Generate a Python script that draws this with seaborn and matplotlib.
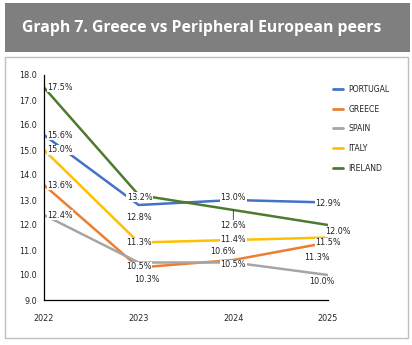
import matplotlib
matplotlib.use("Agg")
import matplotlib.pyplot as plt
from matplotlib.patches import Rectangle
import seaborn as sns
import pandas as pd
from matplotlib import font_manager

years = [2022, 2023, 2024, 2025]
countries = ["PORTUGAL", "GREECE", "SPAIN", "ITALY", "IRELAND"]
portugal = [15.6, 12.8, 13.0, 12.9]
greece = [13.6, 10.3, 10.6, 11.3]
spain = [12.4, 10.5, 10.5, 10.0]
italy = [15.0, 11.3, 11.4, 11.5]
ireland = [17.5, 13.2, 12.6, 12.0]
colors = ["#4472C4", "#ED7D31", "#A5A5A5", "#FFC000", "#4E7A2F"]
title = "Graph 7. Greece vs Peripheral European peers"

series = dict(zip(countries, [portugal, greece, spain, italy, ireland]))
rows = []
for c in countries:
    for y, v in zip(years, series[c]):
        rows.append({"year": y, "value": v, "country": c})
df = pd.DataFrame(rows)

sns.set_theme(style="white")
names = {f.name for f in font_manager.fontManager.ttflist}
if "Liberation Sans Narrow" in names:
    plt.rcParams["font.family"] = ["Liberation Sans Narrow", "DejaVu Sans"]
else:
    plt.rcParams["font.family"] = ["DejaVu Sans"]
    plt.rcParams["font.stretch"] = "condensed"

W, H = 412, 345
fig = plt.figure(figsize=(W / 100, H / 100), dpi=100)

# banner and panel
fig.patches.append(Rectangle((5 / W, 1 - 52 / H), 405 / W, 49 / H, transform=fig.transFigure,
                             facecolor="#7F7F7F", edgecolor="none", zorder=-10))
fig.patches.append(Rectangle((5 / W, 1 - 338 / H), 403 / W, 281 / H, transform=fig.transFigure,
                             facecolor="white", edgecolor="#BFBFBF", lw=1.0, zorder=-10))
fig.text(22 / W, 1 - 28 / H, title, color="white", fontsize=11.3, fontweight="bold",
         family=["Open Sans", "DejaVu Sans"], fontstretch="normal", va="center", ha="left")

ax = fig.add_axes([44 / W, 1 - 300 / H, 284 / W, 225 / H])
ax.set_facecolor("none")
sns.lineplot(data=df, x="year", y="value", hue="country", hue_order=countries,
             palette=colors, linewidth=1.8, ax=ax, legend=True, sort=False)

ax.set_xlim(2022, 2025)
ax.set_ylim(9.0, 18.0)
ax.set_xticks(years)
ax.set_xticklabels([str(y) for y in years])
ax.set_yticks([9 + i for i in range(10)])
ax.set_yticklabels([f"{9 + i:.1f}" for i in range(10)])
ax.set_xlabel("")
ax.set_ylabel("")
for s in ["top", "right"]:
    ax.spines[s].set_visible(False)
for s in ["left", "bottom"]:
    ax.spines[s].set_color("black")
    ax.spines[s].set_linewidth(0.9)
ax.tick_params(axis="x", direction="in", length=4, width=0.8, color="black",
               labelsize=6.5, pad=10)
ax.tick_params(axis="y", direction="out", length=3, width=0.8, color="black",
               labelsize=6.5, pad=2)
ax.grid(False)

leg = ax.legend(loc="upper left", bbox_to_anchor=(325 / W, 1 - 77 / H),
                bbox_transform=fig.transFigure, frameon=False, fontsize=6.2,
                handlelength=1.2, handletextpad=0.6, labelspacing=1.25)
for h in leg.get_lines():
    h.set_linewidth(2.0)

# data labels: (series, index, dx px, dy px, ha, leader)
bbox = dict(facecolor="white", edgecolor="none", pad=0.3)
labels = [
    ("IRELAND", 0, 3, 0, "left", False),
    ("PORTUGAL", 0, 3, 0, "left", False),
    ("ITALY", 0, 3, 0, "left", False),
    ("GREECE", 0, 3, 0, "left", False),
    ("SPAIN", 0, 3, 0, "left", False),
    ("IRELAND", 1, 1, -2, "center", False),
    ("PORTUGAL", 1, 0, -13, "center", False),
    ("ITALY", 1, 0, 0, "center", False),
    ("SPAIN", 1, 0, -4, "center", False),
    ("GREECE", 1, 8, -12, "center", False),
    ("PORTUGAL", 2, 0, 2, "center", False),
    ("IRELAND", 2, 0, -15, "center", True),
    ("ITALY", 2, 0, 0, "center", False),
    ("GREECE", 2, -10, 9, "center", False),
    ("SPAIN", 2, 0, -2, "center", False),
    ("PORTUGAL", 3, 0, -1, "center", False),
    ("IRELAND", 3, 10, -7, "center", False),
    ("ITALY", 3, 0, -5, "center", False),
    ("GREECE", 3, -11, -15, "center", False),
    ("SPAIN", 3, -6, -7, "center", False),
]
for name, i, dx, dy, ha, leader in labels:
    v = series[name][i]
    kw = {}
    if leader:
        kw["arrowprops"] = dict(arrowstyle="-", color="#333333", lw=0.6,
                                shrinkA=0, shrinkB=0)
    ax.annotate(f"{v:.1f}%", (years[i], v), xytext=(dx * 0.72, dy * 0.72),
                textcoords="offset points", ha=ha, va="center", fontsize=6.5,
                color="#222222", bbox=bbox, zorder=5, **kw)

fig.savefig("out.png", dpi=100)
